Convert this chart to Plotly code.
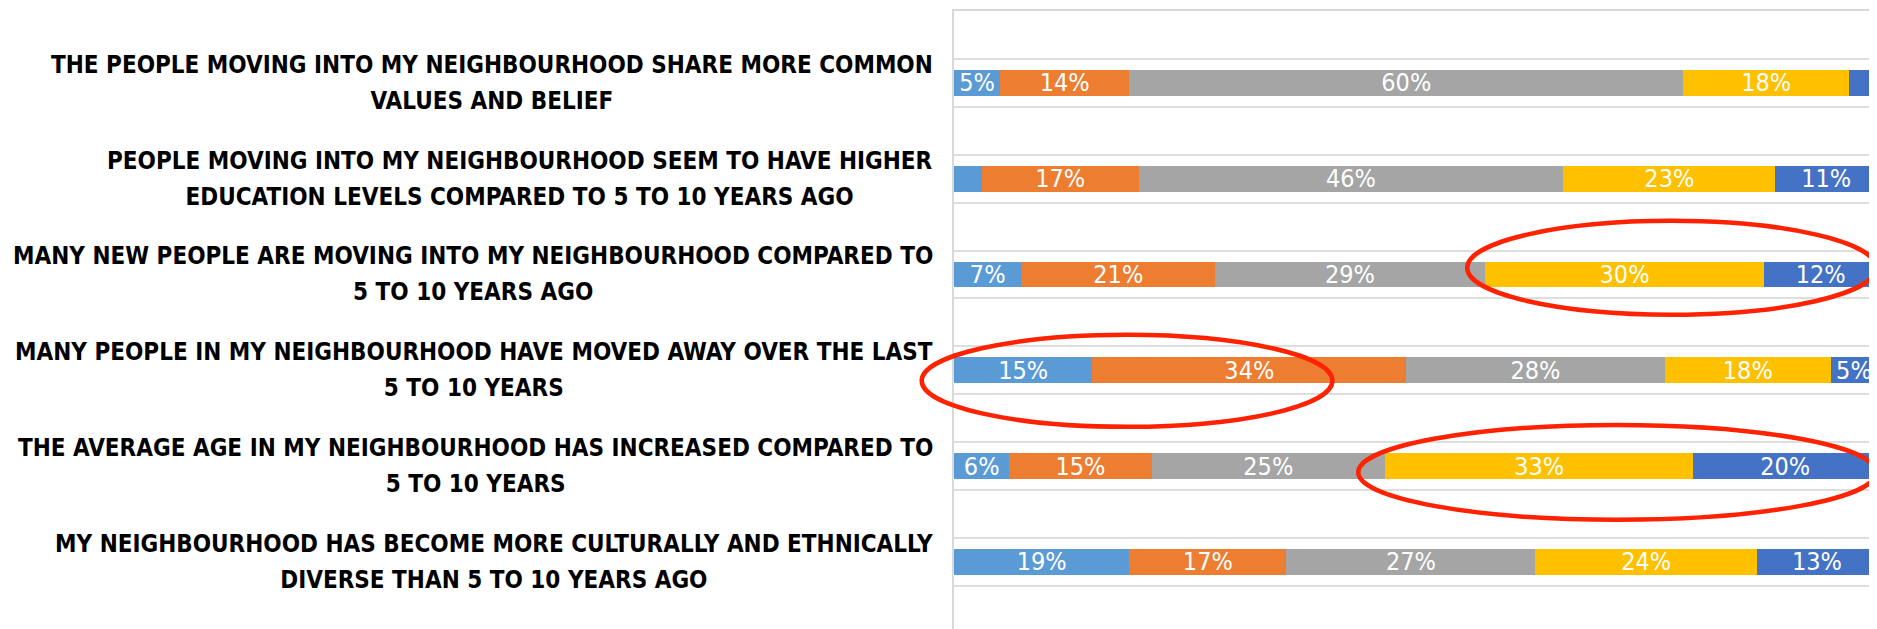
import plotly.graph_objects as go

# survey statements, top to bottom
statements = [
    ["THE PEOPLE MOVING INTO MY NEIGHBOURHOOD SHARE MORE COMMON", "VALUES AND BELIEF"],
    ["PEOPLE MOVING INTO MY NEIGHBOURHOOD SEEM TO HAVE HIGHER", "EDUCATION LEVELS COMPARED TO 5 TO 10 YEARS AGO"],
    ["MANY NEW PEOPLE ARE MOVING INTO MY NEIGHBOURHOOD COMPARED TO", "5 TO 10 YEARS AGO"],
    ["MANY PEOPLE IN MY NEIGHBOURHOOD HAVE MOVED AWAY OVER THE LAST", "5 TO 10 YEARS"],
    ["THE AVERAGE AGE IN MY NEIGHBOURHOOD HAS INCREASED COMPARED TO", "5 TO 10 YEARS"],
    ["MY NEIGHBOURHOOD HAS BECOME MORE CULTURALLY AND ETHNICALLY", "DIVERSE THAN 5 TO 10 YEARS AGO"],
]

# response shares (%) per statement
strongly_disagree = [5, 3, 7.3, 15, 6.0, 19]
disagree = [14, 17, 21.0, 34, 15.4, 17]
neutral = [60, 46, 29.2, 28, 25.3, 27]
agree = [18, 23, 30.3, 18, 33.4, 24]
strongly_agree = [3, 11, 12.2, 5, 19.9, 13]

series = [
    ("Strongly disagree", strongly_disagree, "#5B9BD5"),
    ("Disagree", disagree, "#ED7D31"),
    ("Neutral", neutral, "#A5A5A5"),
    ("Agree", agree, "#FFC000"),
    ("Strongly agree", strongly_agree, "#4472C4"),
]

rows = list(range(len(statements)))

fig = go.Figure()
for name, vals, color in series:
    labels = [f"{v:.0f}%" if v >= 4 else "" for v in vals]
    fig.add_trace(go.Bar(
        y=rows, x=vals, name=name, orientation="h",
        marker=dict(color=color, line=dict(width=0)),
        width=0.27,
        text=labels, textposition="inside", insidetextanchor="middle",
        textangle=0, constraintext="none",
        textfont=dict(family="Liberation Sans Narrow, DejaVu Sans Condensed",
                      size=25, color="white"),
    ))

# category labels, two centred lines each
for i, (l1, l2) in enumerate(statements):
    fig.add_annotation(
        x=0, xref="paper", xanchor="right", xshift=-19,
        y=i, yref="y", yanchor="middle",
        text=f'<span style="font-size:24px">{l1}</span><br><span style="font-size:24px">{l2}</span>',
        align="center", showarrow=False,
        font=dict(family="DejaVu Sans Condensed", size=28, color="black", weight="bold"),
    )

# red highlight ellipses
for x0, x1, y0, y1 in [(0.556, 0.999, 1.44, 2.42),
                       (-0.035, 0.41, 2.63, 3.59),
                       (0.438, 0.999, 3.57, 4.56)]:
    fig.add_shape(type="circle", xref="paper", yref="y",
                  x0=x0, x1=x1, y0=y0, y1=y1,
                  line=dict(color="#FF2200", width=4.5), layer="above")

# page body adds an 8px margin, so the figure is a little smaller than the window
fig.update_layout(
    width=1869, height=621,
    margin=dict(l=946, r=0, t=3, b=0),
    barmode="stack", showlegend=False,
    plot_bgcolor="white", paper_bgcolor="white",
    xaxis=dict(range=[0, 100], side="top", showgrid=False, zeroline=False,
               showticklabels=False, showline=True, linecolor="#D9D9D9", linewidth=2),
    yaxis=dict(range=[5.7, -0.75], tickmode="linear", tick0=0.25, dtick=0.5,
               showgrid=True, gridcolor="#DEDEDE", gridwidth=2, zeroline=False,
               showticklabels=False, showline=True, linecolor="#D9D9D9", linewidth=2),
)

fig.write_html("out.html")
